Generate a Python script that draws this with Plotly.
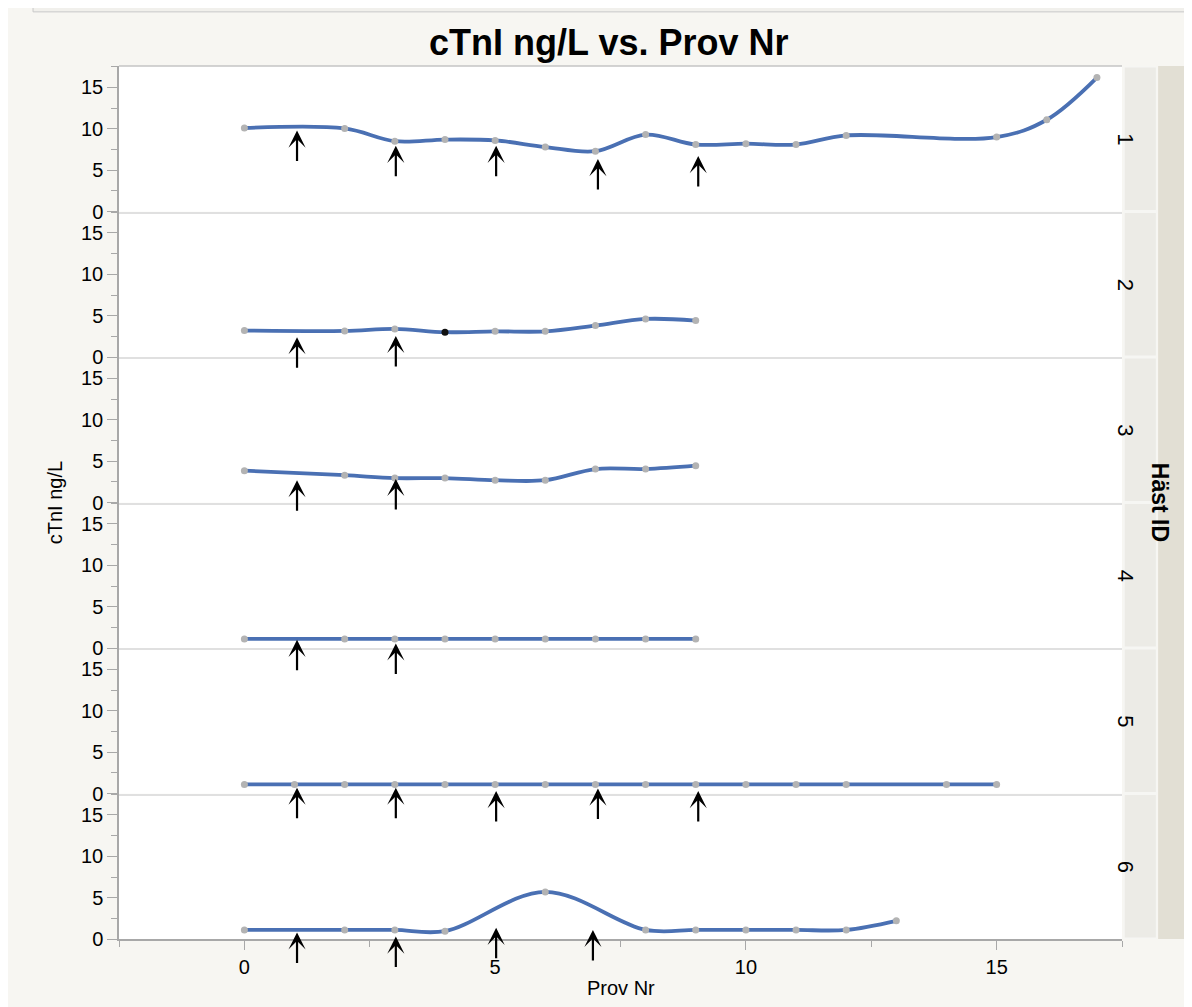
import plotly.graph_objects as go
from plotly.subplots import make_subplots

# ---- data ----
horse_ids = ["1", "2", "3", "4", "5", "6"]

prov_1 = [0, 2, 3, 4, 5, 6, 7, 8, 9, 10, 11, 12, 15, 16, 17]
ctni_1 = [10.1, 10.05, 8.5, 8.7, 8.6, 7.8, 7.3, 9.3, 8.1, 8.2, 8.1, 9.2, 9.0, 11.1, 16.2]

prov_2 = [0, 2, 3, 4, 5, 6, 7, 8, 9]
ctni_2 = [3.2, 3.15, 3.4, 3.0, 3.1, 3.1, 3.8, 4.6, 4.4]

prov_3 = [0, 2, 3, 4, 5, 6, 7, 8, 9]
ctni_3 = [3.85, 3.3, 2.95, 2.95, 2.7, 2.7, 4.05, 4.05, 4.45]

prov_4 = [0, 2, 3, 4, 5, 6, 7, 8, 9]
ctni_4 = [1.1, 1.1, 1.1, 1.1, 1.1, 1.1, 1.1, 1.1, 1.1]

prov_5 = [0, 1, 2, 3, 4, 5, 6, 7, 8, 9, 10, 11, 12, 14, 15]
ctni_5 = [1.1, 1.1, 1.1, 1.1, 1.1, 1.1, 1.1, 1.1, 1.1, 1.1, 1.1, 1.1, 1.1, 1.1, 1.1]

prov_6 = [0, 2, 3, 4, 6, 8, 9, 10, 11, 12, 13]
ctni_6 = [1.1, 1.1, 1.1, 0.95, 5.7, 1.1, 1.1, 1.1, 1.1, 1.1, 2.2]

# highlighted (selected) point in panel 2
selected_2 = [4]

# arrow annotations (tip positions)
arrow_x_1 = [1.05, 3.02, 5.02, 7.05, 9.05]
arrow_y_1 = [9.8, 7.95, 7.95, 6.35, 6.7]
arrow_x_2 = [1.05, 3.02]
arrow_y_2 = [2.4, 2.55]
arrow_x_3 = [1.05, 3.02]
arrow_y_3 = [2.7, 2.85]
arrow_x_4 = [1.05, 3.02]
arrow_y_4 = [1.0, 0.55]
arrow_x_5 = [1.05, 3.02, 5.02, 7.05, 9.05]
arrow_y_5 = [0.7, 0.7, 0.3, 0.6, 0.3]
arrow_x_6 = [1.05, 3.02, 5.02, 6.95]
arrow_y_6 = [0.8, 0.3, 1.35, 1.1]

y_ticks = [0, 5, 10, 15]
x_ticks = [0, 5, 10, 15]

series_x = [prov_1, prov_2, prov_3, prov_4, prov_5, prov_6]
series_y = [ctni_1, ctni_2, ctni_3, ctni_4, ctni_5, ctni_6]
arrows_x = [arrow_x_1, arrow_x_2, arrow_x_3, arrow_x_4, arrow_x_5, arrow_x_6]
arrows_y = [arrow_y_1, arrow_y_2, arrow_y_3, arrow_y_4, arrow_y_5, arrow_y_6]

# ---- style ----
LINE_COL = "#4a70b3"
PT_COL = "#b3b3b3"
AXIS_COL = "#a8a8a8"
SEP_COL = "#e0e0e0"
FONT = "Liberation Sans, Arial, sans-serif"
BG = "#f7f6f2"

fig = make_subplots(rows=6, cols=1, shared_xaxes=True, vertical_spacing=0)

for i in range(6):
    r = i + 1
    colors = [PT_COL] * len(series_x[i])
    if i == 1:
        colors = ["#111111" if x in selected_2 else PT_COL for x in series_x[i]]
    fig.add_trace(
        go.Scatter(
            x=series_x[i], y=series_y[i], mode="lines+markers",
            line=dict(color=LINE_COL, width=3.8, shape="spline", smoothing=1.0),
            marker=dict(color=colors, size=7),
            showlegend=False, hoverinfo="x+y",
        ),
        row=r, col=1,
    )
    fig.update_yaxes(
        range=[0, 17.6], tickvals=y_ticks, ticks="outside", ticklen=10, tickwidth=1.3,
        tickcolor=AXIS_COL, showline=True, linecolor=AXIS_COL, linewidth=1.5,
        showgrid=False, zeroline=False,
        minor=dict(dtick=2.5, tick0=0, ticks="outside", ticklen=6, tickcolor=AXIS_COL, tickwidth=1.2, showgrid=False),
        tickfont=dict(family=FONT, size=20, color="#000000"),
        row=r, col=1,
    )
    if r < 6:
        fig.update_xaxes(
            range=[-2.5, 17.5], showline=True, linecolor=SEP_COL, linewidth=2,
            ticks="", showticklabels=False, showgrid=False, zeroline=False,
            row=r, col=1,
        )
    else:
        fig.update_xaxes(
            range=[-2.5, 17.5], showline=True, linecolor=AXIS_COL, linewidth=1.5,
            tickvals=x_ticks, ticks="outside", ticklen=9, tickwidth=1.3, tickcolor=AXIS_COL,
            minor=dict(dtick=2.5, tick0=-2.5, ticks="outside", ticklen=6, tickcolor=AXIS_COL, tickwidth=1.2, showgrid=False),
            showticklabels=True, showgrid=False, zeroline=False,
            tickfont=dict(family=FONT, size=20, color="#000000"),
            row=r, col=1,
        )

annotations = []
shapes = []

# arrows
for i in range(6):
    yref = "y" if i == 0 else f"y{i+1}"
    xref = "x" if i == 0 else f"x{i+1}"
    for ax_, ay_ in zip(arrows_x[i], arrows_y[i]):
        annotations.append(dict(
            x=ax_, y=ay_, xref=xref, yref=yref, text="", showarrow=True,
            ax=0, ay=32, arrowhead=3, arrowsize=1.3, arrowwidth=2.2, arrowcolor="#000000",
            standoff=0,
        ))

# strips with horse id labels
for i in range(6):
    yd = ("y" if i == 0 else f"y{i+1}") + " domain"
    shapes.append(dict(type="rect", xref="paper", yref=yd, x0=1.002, x1=1.0345, y0=0.006, y1=0.994,
                       fillcolor="#ecebe6", line=dict(color="#f6f6f3", width=1.5), layer="below"))
    annotations.append(dict(text=horse_ids[i], xref="paper", yref=yd, x=1.018, y=0.5,
                            showarrow=False, textangle=90,
                            font=dict(family=FONT, size=22, color="#000000")))

# outer strip
shapes.append(dict(type="rect", xref="paper", yref="paper", x0=1.036, x1=1.09, y0=0, y1=1,
                   fillcolor="#e2dfd4", line=dict(width=0), layer="below"))
annotations.append(dict(text="<b>Häst ID</b>", xref="paper", yref="paper", x=1.0535, y=0.5,
                        showarrow=False, textangle=90,
                        font=dict(family=FONT, size=23, color="#000000")))

# top border of plot area
shapes.append(dict(type="line", xref="paper", yref="paper", x0=0, x1=1, y0=1, y1=1,
                   line=dict(color="#c4c4c4", width=1.5)))

# window chrome band at top
shapes.append(dict(type="rect", xref="paper", yref="paper", x0=-0.0857, x1=1.1, y0=1.062, y1=1.1,
                   fillcolor="#f1f0ec", line=dict(color="#c8c8c8", width=1)))

# axis titles
annotations.append(dict(text="cTnI ng/L", xref="paper", yref="paper", x=-0.077, y=0.5,
                        showarrow=False, textangle=-90,
                        font=dict(family=FONT, size=20, color="#000000")))
annotations.append(dict(text="Prov Nr", xref="paper", yref="paper", x=0.5, y=-0.056,
                        showarrow=False, yanchor="middle",
                        font=dict(family=FONT, size=20, color="#000000")))

fig.update_layout(
    width=1192, height=1007,
    margin=dict(l=111, r=78, t=58, b=76),
    paper_bgcolor=BG, plot_bgcolor="#ffffff",
    title=dict(text="<b>cTnI ng/L vs. Prov Nr</b>", x=0.504, xanchor="center", y=0.966, yanchor="middle",
               font=dict(family=FONT, size=36, color="#000000")),
    annotations=annotations, shapes=shapes,
    showlegend=False,
)

fig.write_html("out.html")
